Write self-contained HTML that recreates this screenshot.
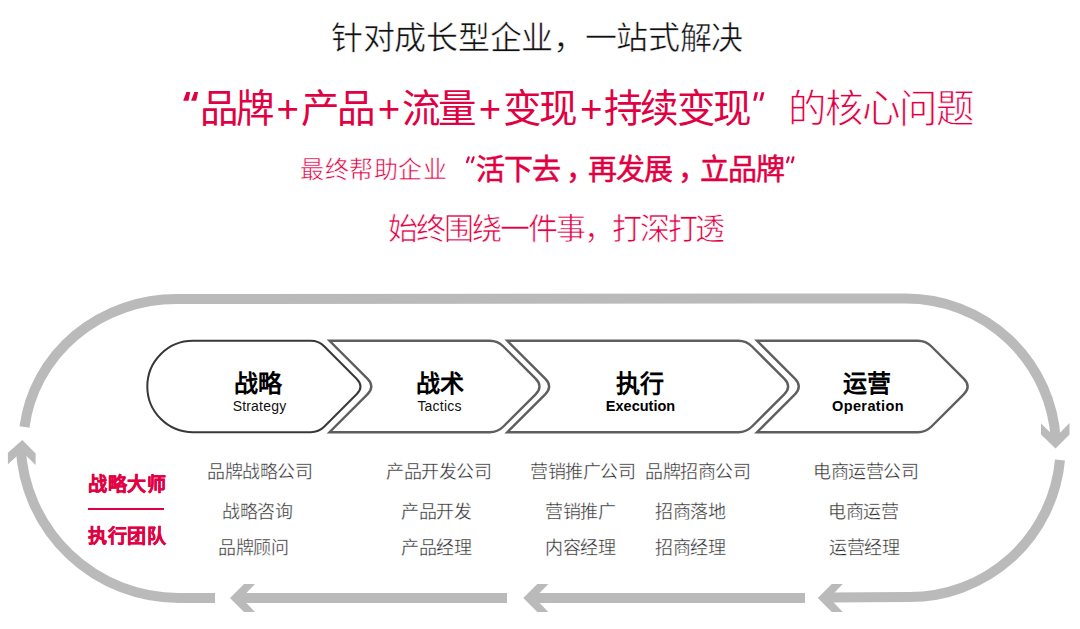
<!DOCTYPE html>
<html lang="zh-CN">
<head>
<meta charset="utf-8">
<style>
html,body{margin:0;padding:0;background:#fff;}
body{width:1080px;height:629px;position:relative;overflow:hidden;font-family:"Liberation Sans",sans-serif;}
.t{position:absolute;white-space:nowrap;line-height:1;}
.pk{color:#e10042;}
.l1{left:331px;top:22px;font-size:32px;letter-spacing:-0.3px;color:#111;-webkit-text-stroke:0.5px #fff;}
.l2{left:199.5px;top:89.5px;font-size:38.5px;letter-spacing:-2.9px;}
.l2 b{font-weight:400;}
.l2 i{font-style:normal;display:inline-block;width:29px;text-align:center;letter-spacing:0;box-sizing:border-box;padding-left:3px;}
.l2b{left:787.5px;top:89.5px;font-size:38.5px;letter-spacing:-2.0px;-webkit-text-stroke:0.8px #fff;}
.l3{left:300px;top:158px;font-size:24px;letter-spacing:0.6px;-webkit-text-stroke:0.5px #fff;}
.l3b{left:475.7px;top:156px;font-size:29px;letter-spacing:-0.95px;-webkit-text-stroke:0.5px #e10042;}
.l3b .cm{position:relative;left:6px;}
.l4{left:388px;top:213.5px;font-size:30px;letter-spacing:-2.05px;-webkit-text-stroke:0.6px #fff;}
.hd{font-size:24px;font-weight:700;color:#000;text-align:center;}
.en{font-size:14px;color:#111;text-align:center;letter-spacing:0.2px;}
.enb{font-size:14.5px;font-weight:700;color:#000;text-align:center;}
.li{font-size:18px;letter-spacing:-0.4px;color:#2a2a2a;-webkit-text-stroke:0.35px #fff;}
.lb{font-size:19px;font-weight:700;letter-spacing:0.6px;-webkit-text-stroke:0.4px #e10042;}
svg{position:absolute;left:0;top:0;}
</style>
</head>
<body>
<svg width="1080" height="629" viewBox="0 0 1080 629">
  <g fill="none" stroke="#bababa" stroke-width="10">
    <!-- upper-left arc + top line + upper-right arc -->
    <path d="M24.5,427 A153,146 0 0 1 177,299 L906,298.5 A150,150 0 0 1 1055.8,440"/>
    <!-- lower-left arc -->
    <path d="M20.7,447 A157.9,157.9 0 0 0 178.4,598 L215,598"/>
    <!-- bottom segments -->
    <path d="M240,598 L507,598"/>
    <path d="M534,598 L805,598"/>
    <!-- lower-right arc -->
    <path d="M828,597.5 L909,597 A151,151 0 0 0 1060,460"/>
  </g>
  <g fill="#bababa">
    <polygon points="1041,423.5 1055.5,437.5 1069.5,423 1069.5,434.5 1055.5,448.6 1041,434.6"/>
    <polygon points="22.3,440 35.6,453.4 35.6,465 22,451.5 7.9,464.2 7.9,452.8"/>
    <polygon points="230,598 244,584 255,584 241.5,598 255,612 244,612"/>
    <polygon points="523.3,598 537.3,584 548.3,584 534.8,598 548.3,612 537.3,612"/>
    <polygon points="817.8,598 831.8,584 842.8,584 829.3,598 842.8,612 831.8,612"/>
  </g>
  <!-- process bar -->
  <g fill="#fff" stroke-width="2" stroke-linejoin="miter" stroke-miterlimit="10">
    <path stroke="#383838" d="M193,340.8 L310.7,340.8 Q318.7,340.8 324.4,346.5 L356.6,378.7 Q364.4,386.5 356.6,394.3 L324.4,426.5 Q318.7,432.2 310.7,432.2 L193,432.2 A45.7,45.7 0 0 1 193,340.8 Z"/>
    <path stroke="#5e5e5e" stroke-width="2.4" d="M329.5,340.8 L489.7,340.8 Q497.7,340.8 503.4,346.5 L535.6,378.7 Q543.4,386.5 535.6,394.3 L503.4,426.5 Q497.7,432.2 489.7,432.2 L329.5,432.2 L367.4,394.3 Q375.2,386.5 367.4,378.7 Z"/>
    <path stroke="#5e5e5e" stroke-width="2.4" d="M507.3,340.8 L738.3,340.8 Q746.3,340.8 752.0,346.5 L784.2,378.7 Q792.0,386.5 784.2,394.3 L752.0,426.5 Q746.3,432.2 738.3,432.2 L507.3,432.2 L545.2,394.3 Q553.0,386.5 545.2,378.7 Z"/>
    <path stroke="#5e5e5e" stroke-width="2.4" d="M757.0,340.8 L917.8,340.8 Q925.8,340.8 931.5,346.5 L963.7,378.7 Q971.5,386.5 963.7,394.3 L931.5,426.5 Q925.8,432.2 917.8,432.2 L757.0,432.2 L794.9,394.3 Q802.7,386.5 794.9,378.7 Z"/>
  </g>
  <g fill="#e10042">
    <polygon points="186.4,92.1 190.2,92.1 188.5,100.7 183.2,100.7"/>
    <polygon points="194.4,92.1 198.1,92.1 196.2,100.7 191.1,100.7"/>
    <polygon points="755,92.3 758.1,92.3 755.9,100.7 753.2,100.7"/>
    <polygon points="761.5,92.3 764.4,92.3 762.2,100.7 759.4,100.7"/>
  </g>
  <g stroke="#e10042" stroke-linecap="round" fill="none">
    <line x1="468.7" y1="157.4" x2="467" y2="162.2" stroke-width="2.2"/>
    <line x1="473.6" y1="157.4" x2="471.9" y2="162.2" stroke-width="2.2"/>
    <line x1="788.6" y1="157.4" x2="787.1" y2="162.2" stroke-width="2.2"/>
    <line x1="793.4" y1="157.4" x2="792" y2="162.2" stroke-width="2.2"/>
  </g>
</svg>

<div class="t l1">针对成长型企业，一站式解决</div>
<div class="t l2 pk">品牌<i>+</i>产品<i>+</i>流量<i>+</i>变现<i>+</i>持续变现</div>
<div class="t l2b pk">的核心问题</div>
<div class="t l3 pk">最终帮助企业</div>
<div class="t l3b pk">活下去<span class="cm">，</span>再发展<span class="cm">，</span>立品牌</div>
<div class="t l4 pk">始终围绕一件事，打深打透</div>

<div class="t hd" style="left:208px;top:372px;width:100px;">战略</div>
<div class="t en" style="left:209.5px;top:398.5px;width:100px;">Strategy</div>
<div class="t hd" style="left:389.5px;top:372px;width:100px;">战术</div>
<div class="t en" style="left:389.5px;top:398.5px;width:100px;">Tactics</div>
<div class="t hd" style="left:589.5px;top:372px;width:100px;">执行</div>
<div class="t enb" style="left:590.5px;top:399px;width:100px;letter-spacing:0px;">Execution</div>
<div class="t hd" style="left:817px;top:372px;width:100px;">运营</div>
<div class="t enb" style="left:818px;top:399px;width:100px;letter-spacing:0.4px;">Operation</div>

<div class="t lb pk" style="left:88px;top:475px;">战略大师</div>
<div style="position:absolute;left:88px;top:508px;width:75.5px;height:2px;background:#e10042;"></div>
<div class="t lb pk" style="left:88px;top:526.5px;">执行团队</div>

<div class="t li" style="left:207px;top:463px;">品牌战略公司</div>
<div class="t li" style="left:222px;top:503px;">战略咨询</div>
<div class="t li" style="left:218px;top:539px;">品牌顾问</div>

<div class="t li" style="left:386px;top:463px;">产品开发公司</div>
<div class="t li" style="left:401px;top:503px;">产品开发</div>
<div class="t li" style="left:401px;top:539px;">产品经理</div>

<div class="t li" style="left:530px;top:463px;">营销推广公司</div>
<div class="t li" style="left:545px;top:503px;">营销推广</div>
<div class="t li" style="left:545px;top:539px;">内容经理</div>

<div class="t li" style="left:645px;top:463px;">品牌招商公司</div>
<div class="t li" style="left:655px;top:503px;">招商落地</div>
<div class="t li" style="left:655px;top:539px;">招商经理</div>

<div class="t li" style="left:813px;top:463px;">电商运营公司</div>
<div class="t li" style="left:828px;top:503px;">电商运营</div>
<div class="t li" style="left:829px;top:539px;">运营经理</div>
</body>
</html>
